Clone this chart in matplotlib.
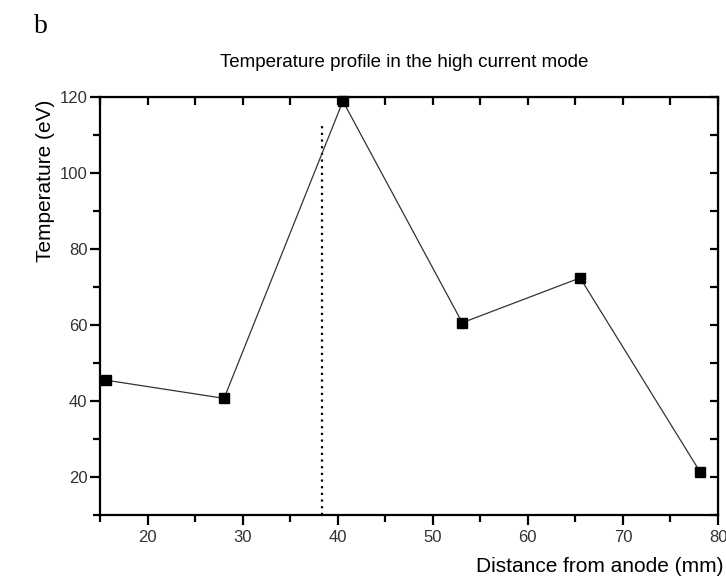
import numpy as np
import matplotlib.pyplot as plt
from matplotlib.ticker import MultipleLocator

plt.rcParams['font.family'] = ['Liberation Sans', 'DejaVu Sans']

# temperature profile, high current mode
distance = [15.6, 28.05, 40.55, 53.1, 65.5, 78.1]
temperature = [45.5, 40.7, 118.9, 60.6, 72.4, 21.4]
marker_x = 38.3
marker_top = 113.2

fig = plt.figure(figsize=(7.26, 5.83), dpi=100)
ax = fig.add_axes([0.1377, 0.1166, 0.8513, 0.717])

ax.plot(distance, temperature, color='#333333', lw=0.9, marker='s',
        ms=7, mfc='black', mec='black', zorder=3, clip_on=False)
ax.plot([marker_x, marker_x], [10, marker_top], color='black', lw=1.6,
        ls=(0, (1, 2)))

ax.set_xlim(15, 80)
ax.set_ylim(10, 120)
ax.xaxis.set_major_locator(MultipleLocator(10))
ax.xaxis.set_minor_locator(MultipleLocator(5))
ax.yaxis.set_major_locator(MultipleLocator(20))
ax.yaxis.set_minor_locator(MultipleLocator(10))
ax.set_yticks([20, 40, 60, 80, 100, 120])

for s in ax.spines.values():
    s.set_linewidth(1.6)
ax.tick_params(which='major', direction='out', length=7, width=1.6,
               labelsize=12, labelcolor='#333333', pad=4)
ax.tick_params(axis='y', which='major', pad=2)
ax.tick_params(which='minor', direction='out', length=5, width=1.6)

top = ax.secondary_xaxis('top')
top.xaxis.set_major_locator(MultipleLocator(5))
top.tick_params(direction='in', length=6, width=1.6, labeltop=False)
right = ax.secondary_yaxis('right')
right.yaxis.set_major_locator(MultipleLocator(10))
right.tick_params(direction='in', length=6, width=1.6, labelright=False)

fig.text(0.997, 0.029, 'Distance from anode (mm)', ha='right', va='center',
         fontsize=15)
fig.text(0.062, 0.69, 'Temperature (eV)', rotation=90, ha='center',
         va='center', fontsize=15)
fig.text(0.557, 0.892, 'Temperature profile in the high current mode',
         ha='center', va='center', fontsize=13.5)
fig.text(0.056, 0.955, 'b', ha='center', va='center', fontsize=20,
         family=['Liberation Serif', 'DejaVu Serif'])

fig.savefig('out.png', dpi=100)
